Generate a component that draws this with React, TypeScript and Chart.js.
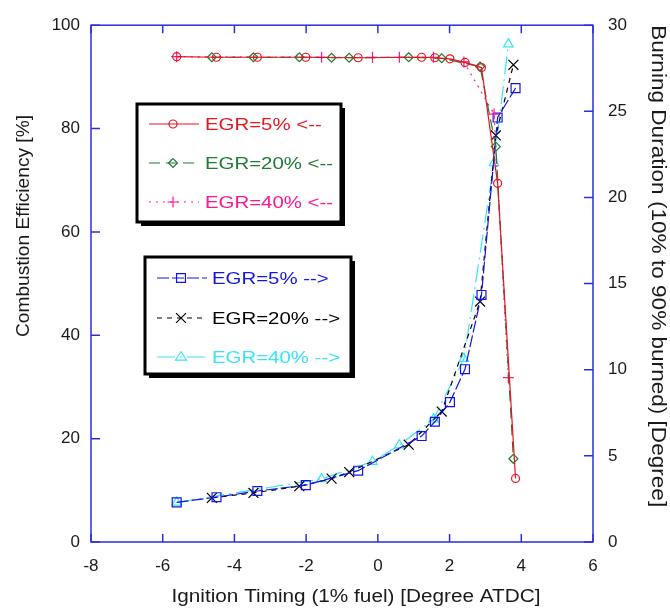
import React, { useEffect, useRef } from 'react';
import { Chart, registerables } from 'chart.js';

Chart.register(...registerables);

// ---------- data ----------
const xTitle = 'Ignition Timing (1% fuel) [Degree ATDC]';
const yLeftTitle = 'Combustion Efficiency [%]';
const yRightTitle = 'Burning Duration (10% to 90% burned) [Degree]';

const seriesLabels = [
  'EGR=5% <--',
  'EGR=20% <--',
  'EGR=40% <--',
  'EGR=5% -->',
  'EGR=20% -->',
  'EGR=40% -->',
];

// ignition timing for each EGR level
const egr5X = [-5.61, -4.5, -3.36, -2.01, -0.55, 1.22, 1.59, 2.01, 2.43, 2.89, 3.34, 3.84];
const egr20X = [-4.63, -3.47, -2.19, -1.29, -0.8, 0.86, 1.78, 2.85, 3.29, 3.78];
const egr40X = [-5.61, -1.57, -0.15, 0.6, 1.55, 2.4, 3.24, 3.64];

// combustion efficiency [%] (left axis)
const egr5Eff = [93.9, 93.8, 93.8, 93.8, 93.7, 93.8, 93.7, 93.5, 92.8, 91.8, 69.4, 12.3];
const egr20Eff = [93.8, 93.8, 93.8, 93.7, 93.7, 93.8, 93.6, 92.0, 76.5, 16.1];
const egr40Eff = [93.9, 93.8, 93.8, 93.8, 93.8, 92.9, 82.8, 31.8];

// burning duration [deg] (right axis)
const egr5Dur = [2.3, 2.6, 2.96, 3.3, 4.14, 6.15, 6.98, 8.12, 10.03, 14.34, 24.64, 26.35];
const egr20Dur = [2.56, 2.85, 3.24, 3.68, 4.06, 5.65, 7.57, 13.96, 23.6, 27.7];
const egr40Dur = [2.3, 3.66, 4.67, 5.62, 7.13, 10.64, 22.0, 28.9];

// axis ranges / ticks
const xRange = [-8, 6];
const xStep = 2;
const yLeftRange = [0, 100];
const yLeftStep = 20;
const yRightRange = [0, 30];
const yRightStep = 5;

// ---------- style ----------
const FONT = "'Liberation Sans', Arial, sans-serif";
const AXIS = '#2e2ee0';
const TEXT = '#1a1a1a';
const RED = '#e8141e';
const GREEN = '#1f7a35';
const MAGENTA = '#ff1493';
const BLUE = '#1414e6';
const BLACK = '#000000';
const CYAN = '#38e4f4';

type Sty = { color: string; dash: number[]; point: string; r: number };
const styles: Sty[] = [
  { color: RED, dash: [], point: 'circle', r: 4 },
  { color: GREEN, dash: [11, 6], point: 'rectRot', r: 4.5 },
  { color: MAGENTA, dash: [2, 5], point: 'cross', r: 5.5 },
  { color: BLUE, dash: [12, 3], point: 'rect', r: 6.3 },
  { color: BLACK, dash: [5, 5], point: 'crossRot', r: 7 },
  { color: CYAN, dash: [18, 5, 2, 5], point: 'triangle', r: 5.5 },
];

const pts = (xs: number[], ys: number[]) => xs.map((x, i) => ({ x, y: ys[i] }));

function drawMarker(ctx: CanvasRenderingContext2D, kind: string, x: number, y: number, r: number, color: string) {
  ctx.save();
  ctx.setLineDash([]);
  ctx.strokeStyle = color;
  ctx.lineWidth = 1.2;
  ctx.beginPath();
  if (kind === 'circle') {
    ctx.arc(x, y, r, 0, Math.PI * 2);
  } else if (kind === 'rectRot') {
    ctx.moveTo(x - r, y); ctx.lineTo(x, y - r); ctx.lineTo(x + r, y); ctx.lineTo(x, y + r); ctx.closePath();
  } else if (kind === 'cross') {
    ctx.moveTo(x - r, y); ctx.lineTo(x + r, y); ctx.moveTo(x, y - r); ctx.lineTo(x, y + r);
  } else if (kind === 'rect') {
    const s = r * Math.SQRT1_2;
    ctx.rect(x - s, y - s, 2 * s, 2 * s);
  } else if (kind === 'crossRot') {
    const s = r * Math.SQRT1_2;
    ctx.moveTo(x - s, y - s); ctx.lineTo(x + s, y + s); ctx.moveTo(x + s, y - s); ctx.lineTo(x - s, y + s);
  } else if (kind === 'triangle') {
    ctx.moveTo(x, y - r); ctx.lineTo(x + r, y + r * 0.55); ctx.lineTo(x - r, y + r * 0.55); ctx.closePath();
  }
  ctx.stroke();
  ctx.restore();
}

// text drawn at a given size, stretched along its direction to a given length
function drawStretchedText(
  ctx: CanvasRenderingContext2D, text: string, x: number, y: number,
  size: number, rotation: number, align: 'left' | 'center', length: number | null, sx: number | null, color: string
) {
  ctx.save();
  ctx.font = `${size}px ${FONT}`;
  ctx.fillStyle = color;
  ctx.textBaseline = 'middle';
  ctx.textAlign = align;
  const w = ctx.measureText(text).width;
  const k = length ? length / w : sx || 1;
  ctx.translate(x, y);
  ctx.rotate(rotation);
  ctx.scale(k, 1);
  ctx.fillText(text, 0, 0);
  ctx.restore();
}

function drawLegendBox(
  ctx: CanvasRenderingContext2D,
  box: { x: number; y: number; w: number; h: number },
  items: number[],
  layout: { l0: number; l1: number; mx: number; tx: number; rows: number[] }
) {
  ctx.save();
  ctx.fillStyle = '#000';
  ctx.fillRect(box.x + 4, box.y + 4, box.w, box.h);
  ctx.fillStyle = '#fff';
  ctx.fillRect(box.x, box.y, box.w, box.h);
  ctx.strokeStyle = '#000';
  ctx.lineWidth = 3;
  ctx.strokeRect(box.x, box.y, box.w, box.h);
  items.forEach((idx, i) => {
    const s = styles[idx];
    const yy = layout.rows[i];
    ctx.save();
    ctx.strokeStyle = s.color;
    ctx.lineWidth = 1.2;
    ctx.setLineDash(s.dash);
    ctx.beginPath();
    ctx.moveTo(layout.l0, yy);
    ctx.lineTo(layout.l1, yy);
    ctx.stroke();
    ctx.restore();
    drawMarker(ctx, s.point, layout.mx, yy, s.r, s.color);
    drawStretchedText(ctx, seriesLabels[idx], layout.tx, yy + 1, 17, 0, 'left', null, 1.2, s.color);
  });
  ctx.restore();
}

const framePlugin = {
  id: 'frameTicks',
  afterDatasetsDraw(chart: any) {
    const { ctx, chartArea } = chart;
    const { left, right, top, bottom } = chartArea;
    const { x, y, y1 } = chart.scales;
    ctx.save();
    ctx.strokeStyle = AXIS;
    ctx.lineWidth = 1.5;
    ctx.setLineDash([]);
    ctx.strokeRect(left, top, right - left, bottom - top);
    ctx.beginPath();
    x.ticks.forEach((t: any) => {
      const px = x.getPixelForValue(t.value);
      ctx.moveTo(px, bottom); ctx.lineTo(px, bottom - 8);
      ctx.moveTo(px, top); ctx.lineTo(px, top + 8);
    });
    y.ticks.forEach((t: any) => {
      const py = y.getPixelForValue(t.value);
      ctx.moveTo(left, py); ctx.lineTo(left + 9, py);
    });
    y1.ticks.forEach((t: any) => {
      const py = y1.getPixelForValue(t.value);
      ctx.moveTo(right, py); ctx.lineTo(right - 9, py);
    });
    ctx.stroke();
    ctx.restore();
  },
  afterDraw(chart: any) {
    const ctx = chart.ctx as CanvasRenderingContext2D;
    const { top } = chart.chartArea;
    // axis titles
    drawStretchedText(ctx, xTitle, 356, 597, 18, 0, 'center', 369, null, TEXT);
    drawStretchedText(ctx, yLeftTitle, 24, 226, 19, -Math.PI / 2, 'center', 222, null, TEXT);
    drawStretchedText(ctx, yRightTitle, 658, top, 20, Math.PI / 2, 'left', 482, null, TEXT);
    // legends
    drawLegendBox(ctx, { x: 137, y: 104, w: 204, h: 118 }, [0, 1, 2], {
      l0: 149, l1: 199, mx: 173, tx: 205, rows: [124, 163, 202],
    });
    drawLegendBox(ctx, { x: 145, y: 257, w: 206, h: 117 }, [3, 4, 5], {
      l0: 157, l1: 207, mx: 181, tx: 212, rows: [278, 318, 357],
    });
  },
};

export default function App() {
  const ref = useRef<HTMLCanvasElement | null>(null);
  useEffect(() => {
    document.body.style.margin = '0';
    const canvas = ref.current;
    if (!canvas) return;
    const mk = (i: number, data: any[], axis: string) => ({
      label: seriesLabels[i],
      data,
      yAxisID: axis,
      showLine: true,
      borderColor: styles[i].color,
      borderWidth: 1.2,
      borderDash: styles[i].dash,
      pointStyle: styles[i].point,
      pointRadius: styles[i].r,
      pointBorderColor: styles[i].color,
      pointBackgroundColor: 'rgba(0,0,0,0)',
      pointBorderWidth: 1.2,
      fill: false,
      tension: 0,
    });
    const tickFont = { family: FONT, size: 17 };
    const chart = new Chart(canvas, {
      type: 'scatter',
      data: {
        datasets: [
          mk(0, pts(egr5X, egr5Eff), 'y'),
          mk(1, pts(egr20X, egr20Eff), 'y'),
          mk(2, pts(egr40X, egr40Eff), 'y'),
          mk(3, pts(egr5X, egr5Dur), 'y1'),
          mk(4, pts(egr20X, egr20Dur), 'y1'),
          mk(5, pts(egr40X, egr40Dur), 'y1'),
        ],
      },
      options: {
        animation: false,
        responsive: false,
        maintainAspectRatio: false,
        layout: { padding: { top: 15, left: 0, right: 0, bottom: 0 } },
        plugins: { legend: { display: false }, tooltip: { enabled: false } },
        scales: {
          x: {
            type: 'linear',
            min: xRange[0],
            max: xRange[1],
            ticks: { stepSize: xStep, font: tickFont, color: TEXT, padding: 14, maxRotation: 0 },
            grid: { display: false, drawTicks: false },
            border: { display: false },
            title: { display: false, text: xTitle },
            afterFit: (s: any) => { s.height = 73; },
          },
          y: {
            type: 'linear',
            position: 'left',
            min: yLeftRange[0],
            max: yLeftRange[1],
            ticks: { stepSize: yLeftStep, font: tickFont, color: TEXT, padding: 11 },
            grid: { display: false, drawTicks: false },
            border: { display: false },
            title: { display: false, text: yLeftTitle },
            afterFit: (s: any) => { s.width = 91; },
          },
          y1: {
            type: 'linear',
            position: 'right',
            min: yRightRange[0],
            max: yRightRange[1],
            ticks: { stepSize: yRightStep, font: tickFont, color: TEXT, padding: 15 },
            grid: { display: false, drawTicks: false },
            border: { display: false },
            title: { display: false, text: yRightTitle },
            afterFit: (s: any) => { s.width = 77; },
          },
        },
      } as any,
      plugins: [framePlugin],
    });
    return () => chart.destroy();
  }, []);
  return (
    <div style={{ width: 670, height: 615, background: '#fff' }}>
      <canvas ref={ref} width={670} height={615} style={{ display: 'block' }} />
    </div>
  );
}
